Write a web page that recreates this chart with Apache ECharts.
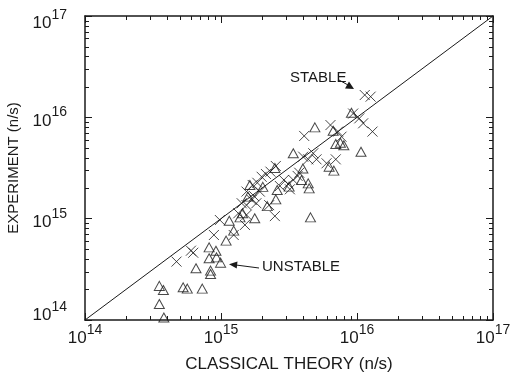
<!DOCTYPE html>
<html>
<head>
<meta charset="utf-8">
<script src="https://cdn.jsdelivr.net/npm/echarts@6/dist/echarts.min.js"></script>
<style>html,body{margin:0;padding:0;background:#fff}#c{width:513px;height:372px}</style>
</head>
<body>
<div id="c"></div>
<script>
// Decade tick exponents (labels 10^n)
const tickExps = [14, 15, 16, 17];
const axisMin = 1e14, axisMax = 1e17;

// Unstable (triangles): classical theory vs experiment (n/s)
const unstableX = [3.52e14,3.77e14,3.52e14,3.80e14,5.27e14,5.65e14,7.28e14,6.55e14,8.38e14,8.38e14,
  8.18e14,8.18e14,9.18e14,9.27e14,9.93e14,1.09e15,1.24e15,1.15e15,1.38e15,1.44e15,
  1.77e15,1.58e15,2.19e15,2.53e15,2.59e15,3.17e15,3.40e15,3.91e15,4.38e15,4.45e15,
  4.55e15,4.90e15,6.24e15,6.76e15,6.68e15,6.98e15,7.55e15,8.00e15,9.10e15,1.07e16,
  4.00e15,2.03e15,2.49e15,1.63e15];
const unstableY = [2.17e14,1.98e14,1.44e14,1.06e14,2.10e14,2.04e14,2.04e14,3.24e14,3.07e14,2.84e14,
  4.06e14,5.21e14,4.83e14,4.15e14,3.68e14,6.07e14,7.62e14,9.55e14,1.03e15,1.13e15,
  1.01e15,1.65e15,1.33e15,1.55e15,1.92e15,2.07e15,4.42e15,2.41e15,2.23e15,1.99e15,
  1.03e15,7.96e15,3.26e15,2.98e15,7.38e15,5.46e15,5.62e15,5.30e15,1.11e16,4.58e15,
  3.13e15,2.06e15,3.16e15,2.15e15];

// Stable (crosses)
const stableX = [4.71e14,6.01e14,6.25e14,8.87e14,9.81e14,1.24e15,1.50e15,1.34e15,1.54e15,1.54e15,
  1.68e15,1.75e15,1.54e15,1.71e15,1.85e15,1.99e15,2.14e15,2.31e15,2.53e15,2.49e15,
  2.26e15,2.90e15,3.12e15,3.21e15,3.66e15,4.09e15,4.02e15,4.38e15,4.77e15,5.04e15,
  5.97e15,6.38e15,6.98e15,7.26e15,7.69e15,9.37e15,1.04e16,1.11e16,1.14e16,1.26e16,
  1.30e16,1.93e15,1.42e15,1.82e15,2.71e15,3.40e15,3.76e15];
const stableY = [3.77e14,4.83e14,4.61e14,6.90e14,9.70e14,6.90e14,8.67e14,1.13e15,1.09e15,1.36e15,
  1.53e15,1.67e15,1.85e15,2.15e15,2.26e15,2.59e15,2.76e15,2.91e15,3.31e15,1.06e15,
  1.36e15,2.41e15,2.20e15,1.95e15,2.64e15,6.55e15,4.09e15,3.85e15,4.42e15,3.85e15,
  3.52e15,8.39e15,3.85e15,7.23e15,6.44e15,1.09e16,9.77e15,8.73e15,1.66e16,1.60e16,
  7.23e15,1.85e15,1.42e15,1.42e15,2.10e15,2.41e15,2.84e15];

// Reference line y = x
const refLine = [[1e14, 1e14], [1e17, 1e17]];

const zip = (a, b) => a.map((v, i) => [v, b[i]]);
const FONT = 'Liberation Sans';
const INK = '#1a1a1a';

const chart = echarts.init(document.getElementById('c'), null, {renderer: 'canvas'});

function expOf(v) { return Math.round(Math.log10(v)); }
const xLabelFmt = v => '{b|10}{s|' + expOf(v) + '}';
const yLabelFmt = v => {
  const e = expOf(v);
  if (e === tickExps[0]) return '{bl|10}{sl|' + e + '}';
  if (e === tickExps[tickExps.length - 1]) return '{bh|10}{sh|' + e + '}';
  return '{b|10}{s|' + e + '}';
};
const BS = 17, SS = 14, SUP = 10;
function fr(size, pad) { return {fontSize: size, fontFamily: FONT, color: INK, verticalAlign: 'bottom', padding: pad}; }
const richBase = {b: fr(BS, [0, 0, 0, 0]), s: fr(SS, [0, 0, SUP, 0])};
const richY = {
  b: fr(BS, [0, 0, 0, 0]), s: fr(SS, [0, 0, SUP, 0]),
  bl: fr(BS, [0, 0, 16, 0]), sl: fr(SS, [0, 0, SUP + 16, 0]),
  bh: fr(BS, [8, 0, 0, 0]), sh: fr(SS, [8, 0, SUP, 0])
};

const axisLine = {show: true, lineStyle: {color: INK, width: 1.5}};
const baseAxis = {
  type: 'log', logBase: 10, min: axisMin, max: axisMax,
  axisLine: axisLine,
  splitLine: {show: false},
  axisTick: {show: true, inside: true, length: 7, lineStyle: {color: INK, width: 1}},
  minorTick: {show: false}
};

const option = {
  animation: false,
  backgroundColor: '#fff',
  grid: {left: 85, right: 20, top: 16, bottom: 52, containLabel: false, outerBoundsMode: 'none'},
  xAxis: [
    Object.assign({}, baseAxis, {
      position: 'bottom',
      name: 'CLASSICAL THEORY (n/s)', nameLocation: 'middle', nameGap: 36,
      nameTextStyle: {fontSize: 17, fontFamily: FONT, color: INK},
      axisLabel: {margin: 3, formatter: xLabelFmt, rich: richBase}
    }),
    Object.assign({}, baseAxis, {position: 'top', axisLabel: {show: false}})
  ],
  yAxis: [
    Object.assign({}, baseAxis, {
      position: 'left',
      name: 'EXPERIMENT (n/s)', nameLocation: 'middle', nameGap: 57,
      nameTextStyle: {fontSize: 15, fontFamily: FONT, color: INK},
      axisLabel: {margin: 18, formatter: yLabelFmt, rich: richY}
    }),
    Object.assign({}, baseAxis, {position: 'right', axisLabel: {show: false}})
  ],
  series: [
    {
      type: 'line', data: refLine, symbol: 'none', silent: true,
      lineStyle: {color: INK, width: 1}, z: 1
    },
    {
      name: 'UNSTABLE', type: 'scatter', data: zip(unstableX, unstableY),
      symbol: 'triangle', symbolSize: [10, 9],
      itemStyle: {color: 'rgba(0,0,0,0)', borderColor: INK, borderWidth: 1}, z: 3
    },
    {
      name: 'STABLE', type: 'scatter', data: zip(stableX, stableY),
      symbol: 'path://M0,0L10,10M10,0L0,10', symbolSize: 10,
      itemStyle: {color: 'rgba(0,0,0,0)', borderColor: INK, borderWidth: 1}, z: 3
    }
  ]
};
chart.setOption(option);

// Minor (log) ticks on all four sides, placed through the axis scales
function addMinorTicks() {
  const els = [];
  const xL = chart.convertToPixel({xAxisIndex: 0}, axisMin);
  const xR = chart.convertToPixel({xAxisIndex: 0}, axisMax);
  const yB = chart.convertToPixel({yAxisIndex: 0}, axisMin);
  const yT = chart.convertToPixel({yAxisIndex: 0}, axisMax);
  const len = 4;
  const st = {stroke: INK, lineWidth: 1};
  for (let d = tickExps[0]; d < tickExps[tickExps.length - 1]; d++) {
    for (let k = 2; k <= 9; k++) {
      const v = k * Math.pow(10, d);
      const px = Math.round(chart.convertToPixel({xAxisIndex: 0}, v)) + 0.5;
      const py = Math.round(chart.convertToPixel({yAxisIndex: 0}, v)) + 0.5;
      els.push({type: 'line', shape: {x1: px, y1: yB, x2: px, y2: yB - len}, style: st, silent: true});
      els.push({type: 'line', shape: {x1: px, y1: yT, x2: px, y2: yT + len}, style: st, silent: true});
      els.push({type: 'line', shape: {x1: xL, y1: py, x2: xL + len, y2: py}, style: st, silent: true});
      els.push({type: 'line', shape: {x1: xR, y1: py, x2: xR - len, y2: py}, style: st, silent: true});
    }
  }
  // Annotations
  els.push({type: 'text', left: 290, top: 70, style: {text: 'STABLE', font: '15px "' + FONT + '"', fill: INK}, silent: true});
  els.push({type: 'line', shape: {x1: 339, y1: 80, x2: 348, y2: 85}, style: st, silent: true});
  els.push({type: 'polygon', shape: {points: [[354, 89], [345, 88.5], [349, 81.5]]}, style: {fill: INK}, silent: true});
  els.push({type: 'text', left: 262, top: 259, style: {text: 'UNSTABLE', font: '15px "' + FONT + '"', fill: INK}, silent: true});
  els.push({type: 'line', shape: {x1: 259, y1: 268, x2: 236, y2: 265}, style: st, silent: true});
  els.push({type: 'polygon', shape: {points: [[229, 264.3], [237.5, 261.5], [236.7, 268.5]]}, style: {fill: INK}, silent: true});
  chart.setOption({graphic: els});
}
addMinorTicks();
</script>
</body>
</html>
